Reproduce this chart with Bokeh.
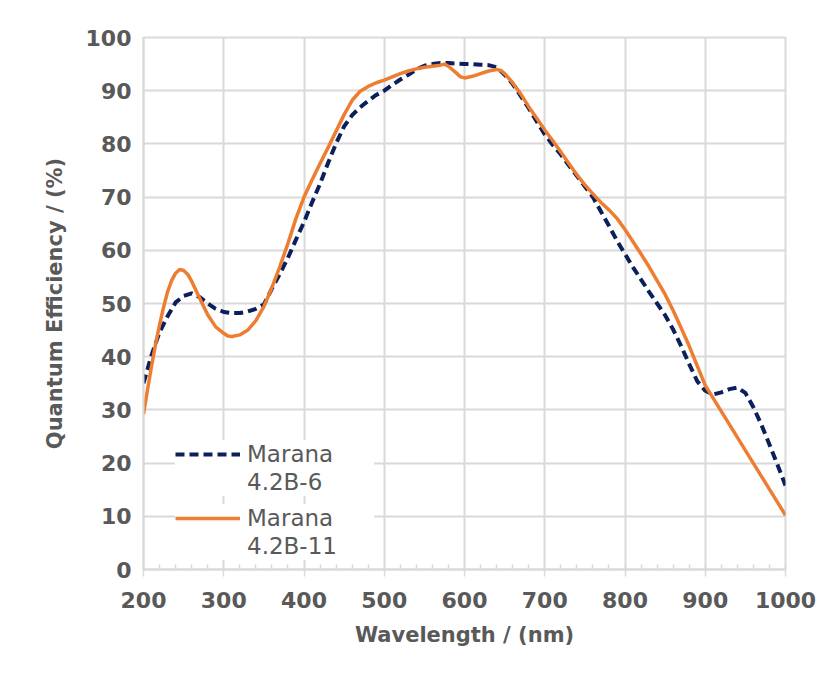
from bokeh.plotting import figure
from bokeh.models import Range1d, SingleIntervalTicker, Legend, LegendItem
from bokeh.embed import file_html
from bokeh.resources import INLINE

# ---- data ----
wl_b6 = [200, 210, 220, 230, 240, 250, 260, 270, 280, 290, 300, 310, 320, 330, 340,
         350, 360, 370, 380, 390, 400, 410, 420, 430, 440, 450, 460, 470, 480, 490,
         500, 510, 520, 530, 540, 550, 560, 570, 580, 590, 600, 610, 620, 630, 640,
         650, 660, 670, 680, 690, 700, 710, 720, 730, 740, 750, 760, 770, 780, 790,
         800, 810, 820, 830, 840, 850, 860, 870, 880, 890, 900, 910, 920, 930, 940,
         950, 960, 970, 980, 990, 1000]
qe_b6 = [35.0, 40.3, 44.6, 47.6, 50.2, 51.4, 51.9, 51.2, 50.0, 49.0, 48.4, 48.2, 48.2, 48.5, 49.0,
         49.8, 52.8, 55.6, 58.6, 62.0, 65.3, 69.0, 72.5, 76.4, 80.1, 83.3, 85.4, 86.9, 88.1, 89.2,
         90.0, 91.1, 92.1, 93.0, 94.0, 94.7, 95.0, 95.2, 95.2, 95.1, 95.0, 95.0, 94.9, 94.8, 94.4,
         93.0, 91.3, 89.0, 86.7, 84.2, 81.8, 79.8, 78.0, 76.0, 74.0, 72.0, 70.0, 67.3, 64.6, 61.8,
         59.3, 56.8, 54.5, 52.2, 50.0, 47.8, 45.1, 42.0, 38.6, 35.4, 33.6, 32.9, 33.3, 33.9, 34.2,
         33.2, 30.5, 27.2, 23.5, 19.7, 15.8]

wl_b11 = [200, 205, 210, 215, 220, 225, 230, 235, 240, 245, 250, 255, 260, 270, 280,
          290, 300, 305, 310, 320, 330, 340, 350, 360, 370, 380, 390, 400, 410, 420,
          430, 440, 450, 460, 470, 480, 490, 500, 510, 520, 530, 540, 550, 560, 570,
          575, 580, 590, 595, 600, 610, 620, 630, 640, 645, 650, 660, 670, 680, 690,
          700, 710, 720, 730, 740, 750, 760, 770, 780, 790, 800, 810, 820, 830, 840,
          850, 860, 870, 880, 890, 900, 1000]
qe_b11 = [29.2, 33.8, 38.2, 42.3, 46.0, 49.3, 52.2, 54.3, 55.7, 56.4, 56.2, 55.5, 54.2, 51.0, 47.9,
          45.6, 44.4, 43.9, 43.8, 44.1, 45.0, 46.8, 49.4, 53.0, 57.0, 61.3, 66.0, 70.0, 73.2, 76.3,
          79.3, 82.4, 85.5, 88.2, 89.9, 90.8, 91.5, 92.0, 92.6, 93.2, 93.7, 94.1, 94.4, 94.6, 94.8,
          95.0, 94.6, 93.3, 92.6, 92.4, 92.7, 93.2, 93.7, 94.0, 93.8, 93.2, 91.5, 89.4, 87.0, 84.8,
          82.6, 80.6, 78.5, 76.3, 74.2, 72.3, 70.6, 69.0, 67.6, 66.0, 63.9, 61.6, 59.3, 56.9, 54.3,
          51.7, 48.7, 45.4, 42.0, 38.3, 34.6, 10.2]

series_name = ["Marana", "Marana"]
series_model = ["4.2B-6", "4.2B-11"]
x_title = "Wavelength / (nm)"
y_title = "Quantum Efficiency / (%)"

GRID = "#d9d9d9"
TXT = "#595959"
FONT = "DejaVu Sans"

p = figure(width=827, height=683,
           x_range=Range1d(200, 1000), y_range=Range1d(0, 100),
           output_backend="svg", toolbar_location=None,
           min_border_left=143, min_border_right=42,
           min_border_top=37, min_border_bottom=114)
p.background_fill_color = "white"
p.border_fill_color = "white"
p.outline_line_color = GRID
p.outline_line_width = 2

xt = SingleIntervalTicker(interval=100, num_minor_ticks=5)
yt = SingleIntervalTicker(interval=10, num_minor_ticks=0)
p.xaxis.ticker = xt
p.yaxis.ticker = yt
p.xgrid.ticker = xt
p.ygrid.ticker = yt
p.grid.grid_line_color = GRID
p.grid.grid_line_width = 2

for ax in (p.xaxis[0], p.yaxis[0]):
    ax.axis_line_color = GRID
    ax.axis_line_width = 2
    ax.major_tick_line_color = GRID
    ax.minor_tick_line_color = GRID
    ax.major_tick_line_width = 1.5
    ax.minor_tick_line_width = 1.5
    ax.major_label_text_font = FONT
    ax.major_label_text_font_style = "bold"
    ax.major_label_text_font_size = "22px"
    ax.major_label_text_color = TXT
    ax.axis_label_text_font = FONT
    ax.axis_label_text_font_style = "bold"
    ax.axis_label_text_font_size = "21px"
    ax.axis_label_text_color = TXT

p.xaxis.axis_label = x_title
p.yaxis.axis_label = y_title
p.xaxis.major_tick_in = 0
p.xaxis.major_tick_out = 7
p.xaxis.minor_tick_in = 5
p.xaxis.minor_tick_out = 0
p.xaxis.major_label_standoff = 15
p.xaxis.axis_label_standoff = 12
p.yaxis.major_tick_in = 0
p.yaxis.major_tick_out = 0
p.yaxis.major_label_standoff = 12
p.yaxis.axis_label_standoff = 16

r1 = p.line(wl_b6, qe_b6, line_color="#0b1f5c", line_width=4, line_dash="9 5")
r2 = p.line(wl_b11, qe_b11, line_color="#ed7d31", line_width=3.5)
# invisible (empty) renderer used only for the second text line of each legend entry
r_blank = p.line([], [], line_alpha=0)


def make_legend(renderer, name, model, loc):
    return Legend(items=[LegendItem(label=name, renderers=[renderer]),
                         LegendItem(label=model, renderers=[r_blank])],
                  location=loc, padding=5, spacing=0, margin=0,
                  glyph_width=65, glyph_height=28, label_height=28,
                  label_width=127, label_standoff=7,
                  label_text_font=FONT, label_text_font_size="23px",
                  label_text_color=TXT,
                  background_fill_color="white", background_fill_alpha=1.0,
                  border_line_color=None)


p.add_layout(make_legend(r1, series_name[0], series_model[0], (32, 73)))
p.add_layout(make_legend(r2, series_name[1], series_model[1], (32, 9)))

open("out.html", "w").write(file_html(p, INLINE))
